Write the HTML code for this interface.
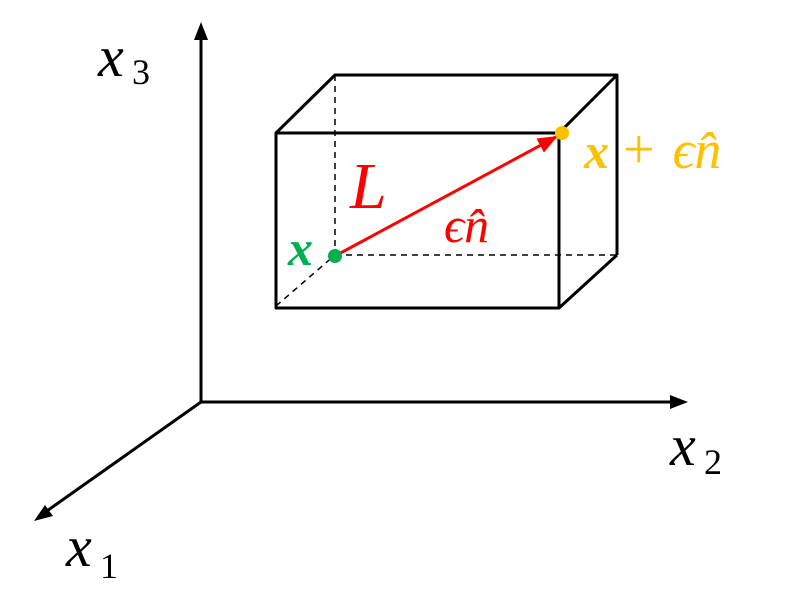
<!DOCTYPE html>
<html><head><meta charset="utf-8"><style>
html,body{margin:0;padding:0;background:#fff;}
svg{display:block;}
text{font-family:"Liberation Serif","DejaVu Serif",serif;font-style:italic;}
</style></head><body>
<svg width="791" height="599" viewBox="0 0 791 599" xmlns="http://www.w3.org/2000/svg">
<defs>
<marker id="ar" markerWidth="20" markerHeight="16" refX="18" refY="8" orient="auto" markerUnits="userSpaceOnUse" viewBox="0 0 20 16"><path d="M0,0 L20,8 L0,16 z" fill="#f00"/></marker>
</defs>
<g stroke="#000" stroke-width="3" fill="none">
<line x1="201" y1="402" x2="201" y2="36"/>
<line x1="201" y1="402" x2="674" y2="402"/>
<line x1="201" y1="402" x2="44" y2="513"/>
</g>
<path d="M201,22 L194,40 L208,40 z"/>
<path d="M688,402 L670,395 L670,409 z"/>
<path d="M34,521 L45,505 L53,516 z"/>
<g stroke="#000" stroke-width="1.5" stroke-dasharray="6,5" fill="none">
<line x1="335" y1="75" x2="335" y2="255"/>
<line x1="335" y1="255" x2="617" y2="255"/>
<line x1="276" y1="306" x2="335" y2="255"/>
</g>
<g stroke="#000" stroke-width="3" fill="none" stroke-linejoin="round">
<rect x="276" y="133" width="283" height="175"/>
<polyline points="276,133 335,75 617,75 559,133"/>
<line x1="617" y1="75" x2="617" y2="255"/>
<line x1="617" y1="255" x2="559" y2="308"/>
</g>
<line x1="335" y1="256" x2="556" y2="137" stroke="#f00" stroke-width="3" marker-end="url(#ar)"/>
<circle cx="335" cy="256" r="7" fill="#00b050"/>
<circle cx="562" cy="133" r="7" fill="#ffc000"/>
<text x="98" y="76" font-size="58">x</text><text x="132" y="84" font-size="36" style="font-style:normal">3</text>
<text x="670" y="465" font-size="58">x</text><text x="704" y="474" font-size="36" style="font-style:normal">2</text>
<text x="66" y="566" font-size="58">x</text><text x="100" y="578" font-size="36" style="font-style:normal">1</text>
<text x="350" y="208" font-size="66" fill="#f00">L</text>
<text x="444" y="242" font-size="50" fill="#f00">ϵn̂</text>
<text x="288" y="265" font-size="50" fill="#00b050" font-weight="bold">x</text>
<text x="584" y="168" font-size="50" fill="#ffc000"><tspan font-weight="bold">x</tspan><tspan style="font-style:normal" font-size="56"> + </tspan><tspan dx="4" font-size="54">ϵn̂</tspan></text>
</svg>
</body></html>
